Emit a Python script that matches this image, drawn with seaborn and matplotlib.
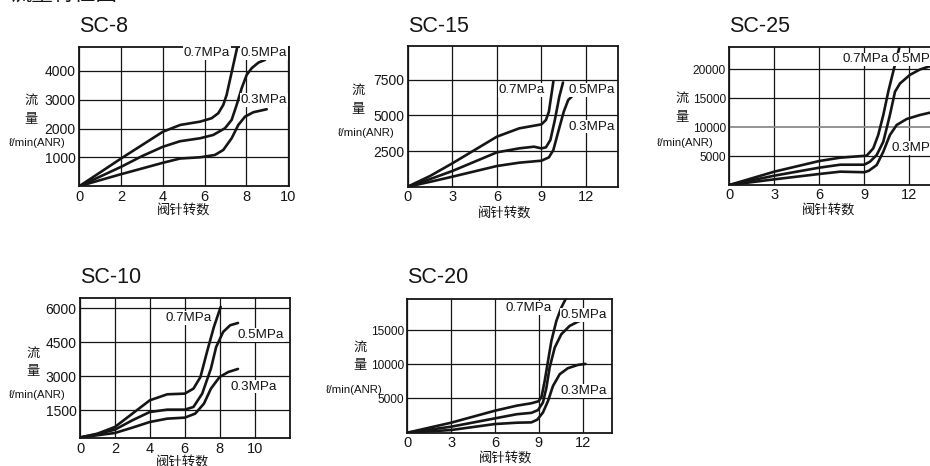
import matplotlib
matplotlib.use("Agg")
import matplotlib.pyplot as plt
import seaborn as sns
import pandas as pd
from matplotlib import font_manager

# ---------------- data ----------------
pressures = ["0.7MPa", "0.5MPa", "0.3MPa"]

# SC-8
sc8_x07 = [0, 1, 2, 3, 4, 4.83, 5.78, 6.33, 6.65, 6.89, 7.05, 7.21, 7.37, 7.53, 7.61]
sc8_y07 = [0, 480, 962, 1426, 1890, 2125, 2240, 2357, 2531, 2819, 3167, 3688, 4208, 4729, 5017]
sc8_x05 = [0, 1, 2, 3, 4, 4.82, 5.78, 6.41, 6.97, 7.29, 7.53, 7.77, 8.01, 8.25, 8.57, 8.89]
sc8_y05 = [0, 335, 672, 1043, 1368, 1560, 1663, 1778, 2010, 2299, 2819, 3399, 3861, 4094, 4288, 4382]
sc8_x03 = [0, 1, 2, 3, 4, 4.82, 5.78, 6.49, 6.89, 7.29, 7.61, 7.93, 8.33, 8.97]
sc8_y03 = [0, 210, 417, 614, 812, 960, 1003, 1083, 1257, 1663, 2125, 2413, 2566, 2670]

# SC-15
sc15_x07 = [0, 1.5, 3, 6, 7.5, 8.5, 9, 9.3, 9.5, 9.65, 9.8]
sc15_y07 = [0, 748, 1636, 3505, 4089, 4276, 4369, 4673, 5257, 6308, 7360]
sc15_x05 = [0, 1.5, 3, 6, 7.5, 8.5, 9, 9.3, 9.6, 9.9, 10.2, 10.45]
sc15_y05 = [0, 530, 1098, 2407, 2687, 2804, 2687, 2757, 3271, 4673, 6308, 7300]
sc15_x03 = [0, 1.5, 3, 6, 7.5, 8.5, 9, 9.5, 9.8, 10.1, 10.5, 10.8, 11.15]
sc15_y03 = [0, 340, 700, 1449, 1682, 1776, 1822, 2056, 2570, 3738, 5257, 6075, 6430]

# SC-25
sc25_x07 = [0, 3, 6, 7.4, 9.16, 9.6, 9.93, 10.27, 10.6, 10.93, 11.27, 11.4]
sc25_y07 = [0, 2299, 4138, 4713, 5057, 6322, 8621, 12069, 16092, 19540, 22989, 24300]
sc25_x05 = [0, 3, 6, 7.4, 9, 9.38, 9.83, 10.27, 10.71, 11.05, 11.38, 12.05, 12.7, 13.4, 14.0]
sc25_y05 = [0, 1609, 2989, 3500, 3500, 4023, 5172, 7471, 12069, 16092, 17500, 19000, 19900, 20500, 20800]
sc25_x03 = [0, 3, 6, 7.4, 9, 9.3, 9.83, 10.27, 10.71, 11.16, 11.83, 12.71, 13.38, 14.0]
sc25_y03 = [0, 977, 1897, 2300, 2200, 2450, 3448, 5747, 8621, 10345, 11379, 12069, 12471, 12650]

# SC-10
sc10_x07 = [0, 1, 2, 3, 4, 5, 6, 6.5, 6.9, 7.3, 7.67, 8.06]
sc10_y07 = [300, 470, 765, 1353, 1941, 2206, 2235, 2456, 2971, 4147, 5176, 6059]
sc10_x05 = [0, 1, 2, 3, 4, 5, 6, 6.5, 7, 7.5, 7.8, 8.2, 8.6, 9.05]
sc10_y05 = [300, 450, 647, 1059, 1426, 1529, 1529, 1647, 2235, 3338, 4294, 4956, 5250, 5353]
sc10_x03 = [0, 1, 2, 3, 4, 5, 6, 6.6, 7.1, 7.5, 8, 8.5, 9.05]
sc10_y03 = [300, 400, 500, 735, 985, 1132, 1176, 1353, 1794, 2456, 2971, 3191, 3324]

# SC-20
sc20_x07 = [0, 3, 6, 7.5, 8.5, 9.0, 9.2, 9.41, 9.64, 9.87, 10.21, 10.55, 10.9]
sc20_y07 = [0, 1460, 3213, 3950, 4300, 4600, 5300, 7566, 10487, 13409, 16330, 18286, 19750]
sc20_x05 = [0, 3, 6, 7.5, 8.5, 8.95, 9.29, 9.53, 9.75, 10.1, 10.55, 11.12, 11.58, 12.05]
sc20_y05 = [0, 876, 2093, 2700, 2900, 3300, 4411, 6602, 9524, 12445, 14387, 15600, 16100, 16580]
sc20_x03 = [0, 3, 6, 7.5, 8.5, 8.9, 9.29, 9.64, 9.98, 10.44, 11.0, 11.69, 12.2]
sc20_y03 = [0, 389, 1266, 1460, 1509, 1900, 2950, 4645, 6836, 8546, 9422, 9904, 10050]

titles = ["SC-8", "SC-15", "SC-25", "SC-10", "SC-20"]
sc8_xticks = [0, 2, 4, 6, 8, 10]
sc8_yticks = [1000, 2000, 3000, 4000]
sc15_xticks = [0, 3, 6, 9, 12]
sc15_yticks = [2500, 5000, 7500]
sc25_xticks = [0, 3, 6, 9, 12]
sc25_yticks = [5000, 10000, 15000, 20000]
sc10_xticks = [0, 2, 4, 6, 8, 10]
sc10_yticks = [1500, 3000, 4500, 6000]
sc20_xticks = [0, 3, 6, 9, 12]
sc20_yticks = [5000, 10000, 15000]
xlabel_text = "阀针转数"
ylabel_chars = ["流", "量"]
unit_text = "ℓ/min(ANR)"
page_title = "流量特性图"

# ---------------- style ----------------
sns.set_theme(style="white")
plt.rcParams["font.family"] = ["Liberation Sans", "DejaVu Sans"]
names = {f.name for f in font_manager.fontManager.ttflist}
narrow_ok = "Liberation Sans Narrow" in names
NARROW = ["Liberation Sans Narrow", "Liberation Sans", "DejaVu Sans"] if narrow_ok else ["Liberation Sans", "DejaVu Sans"]
CJK = ["Noto Sans CJK SC", "DejaVu Sans"]
INK = "#151515"

W, H = 930, 466
fig = plt.figure(figsize=(W / 100, H / 100), dpi=100)


def px_axes(x0, y0, x1, y1):
    return fig.add_axes([x0 / W, (H - y1) / H, (x1 - x0) / W, (y1 - y0) / H])


def fx(x):
    return x / W


def fy(y):
    return 1 - y / H


def make_panel(box, xs, ys, xlim, ylim, xticks, yticks, narrow_y=False):
    ax = px_axes(*box)
    frames = []
    for p, x, y in zip(pressures, xs, ys):
        frames.append(pd.DataFrame({"x": x, "y": y, "p": p}))
    df = pd.concat(frames, ignore_index=True)
    sns.lineplot(data=df, x="x", y="y", units="p", estimator=None, sort=False,
                 color=INK, lw=1.9, ax=ax, legend=False, zorder=3)
    ax.set_xlim(*xlim)
    ax.set_ylim(*ylim)
    ax.set_xticks(xticks)
    ax.set_yticks(yticks)
    ax.set_xticklabels([str(t) for t in xticks])
    ax.set_yticklabels([str(t) for t in yticks])
    ax.set_xlabel("")
    ax.set_ylabel("")
    ax.grid(True, color=INK, lw=0.9)
    ax.set_axisbelow(True)
    for s in ax.spines.values():
        s.set_color(INK)
        s.set_linewidth(1.3)
        s.set_visible(True)
    ax.tick_params(length=0, pad=2.5, labelsize=10, colors=INK)
    if narrow_y:
        for t in ax.get_yticklabels():
            t.set_family(NARROW)
            t.set_fontsize(10 if narrow_ok else 8.6)
    for t in ax.get_xticklabels():
        t.set_fontsize(10.5)
    return ax


def label(ax, x, y, s, ha):
    ax.text(x, y, s, ha=ha, va="center", fontsize=9.6, color=INK, zorder=5,
            bbox=dict(facecolor="white", edgecolor="none", pad=0.6))


def side_labels(cx_cjk, y1, y2, cx_unit, yu, xl_cx, xl_y):
    fig.text(fx(cx_cjk), fy(y1), ylabel_chars[0], family=CJK, fontsize=9.5, ha="center", va="center", color=INK)
    fig.text(fx(cx_cjk), fy(y2), ylabel_chars[1], family=CJK, fontsize=9.5, ha="center", va="center", color=INK)
    fig.text(fx(cx_unit), fy(yu), unit_text, family=NARROW, fontsize=(9.5 if narrow_ok else 8.2),
             ha="center", va="center", color=INK)
    fig.text(fx(xl_cx), fy(xl_y), xlabel_text, family=CJK, fontsize=9.6, ha="center", va="center", color=INK)


# page title (cut at top, as in the source page)
fig.text(fx(10), fy(1.0), page_title, family=CJK, fontsize=15.4, ha="left", va="baseline", color=INK)

# SC-8
ax = make_panel((79.3, 46.7, 289.3, 186.2), [sc8_x07, sc8_x05, sc8_x03], [sc8_y07, sc8_y05, sc8_y03],
                (0, 10.05), (0, 4840), sc8_xticks, sc8_yticks)
label(ax, 7.21, 4615, "0.7MPa", "right")
label(ax, 7.72, 4615, "0.5MPa", "left")
label(ax, 7.72, 2993, "0.3MPa", "left")
fig.text(fx(79.3), fy(31.7), titles[0], fontsize=15.5, ha="left", va="baseline", color=INK)
side_labels(31, 100, 120, 37.5, 143, 183.5, 210)

# SC-15
ax = make_panel((407.7, 46.0, 617.7, 186.7), [sc15_x07, sc15_x05, sc15_x03], [sc15_y07, sc15_y05, sc15_y03],
                (0, 14.13), (0, 9860), sc15_xticks, sc15_yticks)
label(ax, 9.24, 6777, "0.7MPa", "right")
label(ax, 10.79, 6777, "0.5MPa", "left")
label(ax, 10.79, 4205, "0.3MPa", "left")
fig.text(fx(407.7), fy(31.7), titles[1], fontsize=15.5, ha="left", va="baseline", color=INK)
side_labels(358, 90, 110, 366, 133, 505, 213)

# SC-25 (extends past the right edge)
ax = make_panel((729.3, 46.7, 940.0, 185.0), [sc25_x07, sc25_x05, sc25_x03], [sc25_y07, sc25_y05, sc25_y03],
                (0, 14.05), (0, 23845), sc25_xticks, sc25_yticks, narrow_y=True)
ax.get_ygridlines()[1].set_color("#8a8a8a")
ax.get_ygridlines()[1].set_linewidth(1.3)
label(ax, 10.6, 21672, "0.7MPa", "right")
label(ax, 10.82, 21672, "0.5MPa", "left")
label(ax, 10.82, 6328, "0.3MPa", "left")
fig.text(fx(729.3), fy(31.7), titles[2], fontsize=15.5, ha="left", va="baseline", color=INK)
side_labels(682, 98, 118, 685, 143, 829, 210)

# SC-10
ax = make_panel((80.0, 298.3, 290.0, 438.3), [sc10_x07, sc10_x05, sc10_x03], [sc10_y07, sc10_y05, sc10_y03],
                (0, 12.03), (265, 6440), sc10_xticks, sc10_yticks)
label(ax, 7.55, 5559, "0.7MPa", "right")
label(ax, 9.05, 4822, "0.5MPa", "left")
label(ax, 8.6, 2541, "0.3MPa", "left")
fig.text(fx(80), fy(283.3), titles[3], fontsize=15.5, ha="left", va="baseline", color=INK)
side_labels(33, 353, 372, 37.5, 395, 183, 462)

# SC-20
ax = make_panel((407.3, 299.0, 611.7, 432.7), [sc20_x07, sc20_x05, sc20_x03], [sc20_y07, sc20_y05, sc20_y03],
                (0, 14.0), (0, 19530), sc20_xticks, sc20_yticks, narrow_y=True)
label(ax, 9.9, 18186, "0.7MPa", "right")
label(ax, 10.5, 17163, "0.5MPa", "left")
label(ax, 10.5, 6106, "0.3MPa", "left")
fig.text(fx(407.3), fy(283.3), titles[4], fontsize=15.5, ha="left", va="baseline", color=INK)
side_labels(360, 347, 366, 354.7, 390, 506, 458)

fig.savefig("out.png", dpi=100, facecolor="white")
